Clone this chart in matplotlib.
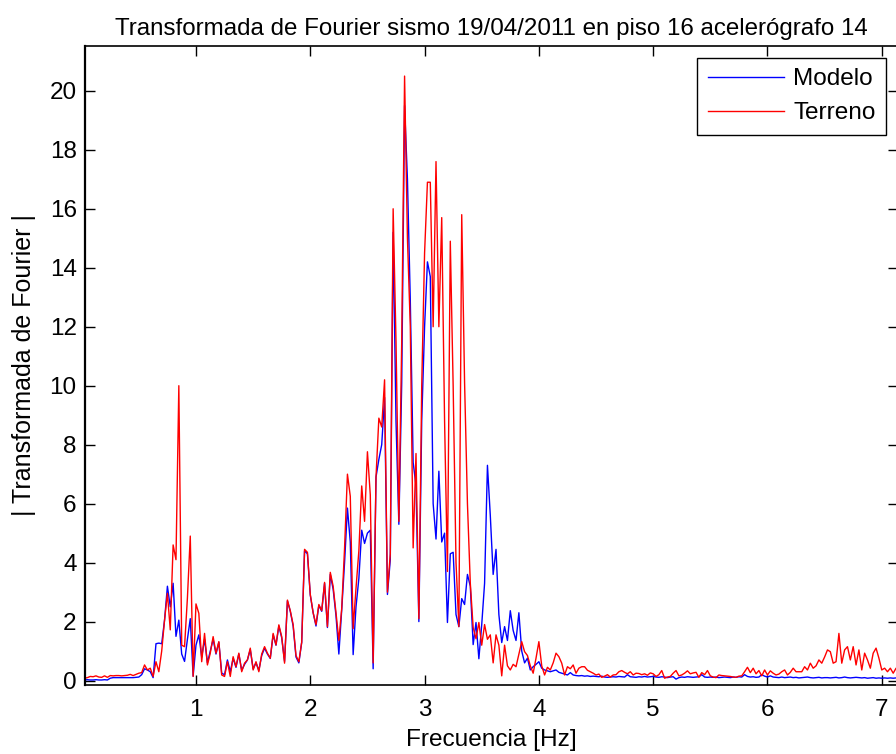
import numpy as np
import matplotlib
matplotlib.use('Agg')
import matplotlib.pyplot as plt

plt.rcParams['font.family'] = 'Liberation Sans'

# frequency bins of the spectrum [Hz]
df = 0.025
freq = np.arange(1, 287) * df

# |FFT| of the building model record (piso 16, acelerografo 14)
modelo = [
    0.02, 0.03, 0.02, 0.02, 0.03, 0.02, 0.02, 0.03, 0.02, 0.08, 0.10, 0.10, 0.10, 0.10, 0.10, 0.10, 0.10, 0.10, 0.11, 0.12,
    0.20, 0.40, 0.36, 0.30, 0.10, 1.25, 1.27, 1.25, 2.05, 3.20, 2.50, 3.30, 1.50, 2.05, 0.90, 0.65, 1.40, 2.10, 0.15, 1.20,
    1.55, 0.80, 1.40, 0.60, 1.00, 1.40, 0.90, 1.30, 0.25, 0.20, 0.70, 0.30, 0.75, 0.45, 0.90, 0.35, 0.55, 0.70, 1.05, 0.40,
    0.60, 0.35, 0.85, 1.10, 0.90, 0.75, 1.55, 1.20, 1.85, 1.45, 0.65, 2.70, 2.35, 1.85, 0.80, 0.60, 1.30, 4.40, 4.30, 2.90,
    2.30, 1.85, 2.55, 2.35, 3.30, 1.80, 3.60, 3.10, 2.20, 0.90, 2.40, 4.00, 5.85, 4.70, 0.88, 2.50, 3.46, 5.10, 4.65, 5.00,
    5.10, 0.40, 6.90, 7.50, 8.00, 9.60, 2.92, 4.10, 15.2, 8.80, 5.30, 10.1, 19.5, 17.0, 12.9, 7.40, 6.60, 2.00, 8.80, 12.0,
    14.2, 13.7, 6.00, 4.80, 7.10, 4.70, 5.00, 1.97, 4.30, 4.35, 2.24, 1.83, 2.78, 2.58, 3.60, 3.20, 1.22, 1.97, 0.74, 1.90,
    3.30, 7.30, 5.60, 3.60, 4.45, 2.24, 1.29, 1.83, 1.36, 2.37, 1.70, 1.36, 2.30, 1.00, 0.60, 0.76, 0.36, 0.47, 0.55, 0.64,
    0.42, 0.36, 0.33, 0.30, 0.33, 0.36, 0.28, 0.25, 0.22, 0.19, 0.27, 0.19, 0.17, 0.16, 0.17, 0.15, 0.16, 0.14, 0.15, 0.14,
    0.13, 0.15, 0.12, 0.11, 0.12, 0.13, 0.12, 0.14, 0.13, 0.12, 0.20, 0.13, 0.12, 0.11, 0.13, 0.12, 0.14, 0.12, 0.13, 0.14,
    0.12, 0.11, 0.13, 0.12, 0.10, 0.12, 0.13, 0.05, 0.10, 0.12, 0.11, 0.13, 0.12, 0.11, 0.12, 0.13, 0.20, 0.12, 0.11, 0.12,
    0.11, 0.12, 0.10, 0.11, 0.12, 0.11, 0.10, 0.12, 0.11, 0.13, 0.12, 0.20, 0.14, 0.12, 0.13, 0.11, 0.12, 0.20, 0.15, 0.12,
    0.16, 0.12, 0.11, 0.10, 0.12, 0.10, 0.11, 0.12, 0.10, 0.11, 0.09, 0.10, 0.11, 0.12, 0.10, 0.09, 0.10, 0.11, 0.09, 0.10,
    0.10, 0.09, 0.10, 0.11, 0.09, 0.10, 0.12, 0.10, 0.09, 0.10, 0.11, 0.10, 0.09, 0.10, 0.08, 0.09, 0.10, 0.08, 0.09, 0.08,
    0.09, 0.08, 0.09, 0.08, 0.09, 0.08,
]

# |FFT| of the ground record
terreno = [
    0.08, 0.10, 0.14, 0.13, 0.16, 0.12, 0.11, 0.16, 0.11, 0.17, 0.16, 0.17, 0.17, 0.16, 0.17, 0.18, 0.21, 0.17, 0.21, 0.25,
    0.27, 0.53, 0.36, 0.42, 0.14, 0.64, 0.30, 1.00, 2.05, 2.96, 1.72, 4.60, 4.10, 10.0, 1.20, 1.15, 2.80, 4.90, 0.14, 2.60,
    2.28, 0.64, 1.60, 0.53, 0.93, 1.49, 0.93, 1.32, 0.19, 0.14, 0.64, 0.14, 0.81, 0.47, 0.93, 0.30, 0.59, 0.70, 1.10, 0.36,
    0.64, 0.30, 0.90, 1.15, 0.93, 0.76, 1.60, 1.21, 1.89, 1.49, 0.59, 2.73, 2.37, 1.90, 0.85, 0.64, 1.30, 4.45, 4.35, 2.92,
    2.30, 1.90, 2.58, 2.37, 3.33, 1.83, 3.67, 3.20, 2.30, 1.36, 2.44, 4.50, 7.00, 6.25, 1.76, 3.13, 4.40, 6.60, 5.40, 7.76,
    6.30, 0.60, 6.90, 8.90, 8.60, 10.2, 3.00, 4.30, 16.0, 11.5, 5.40, 11.5, 20.5, 15.0, 12.0, 4.50, 7.70, 2.10, 10.0, 14.5,
    16.9, 16.9, 12.0, 17.6, 12.0, 15.7, 8.80, 3.70, 14.9, 10.0, 4.00, 1.83, 15.8, 10.1, 6.00, 3.30, 1.80, 1.42, 1.97, 1.20,
    1.90, 1.40, 1.55, 0.60, 1.55, 1.20, 0.16, 1.20, 0.50, 0.36, 0.55, 0.47, 0.90, 1.32, 0.98, 0.85, 0.50, 0.25, 0.76, 1.32,
    0.50, 0.19, 0.45, 0.36, 0.60, 0.93, 0.81, 0.59, 0.19, 0.47, 0.40, 0.53, 0.25, 0.42, 0.47, 0.47, 0.35, 0.30, 0.25, 0.19,
    0.22, 0.11, 0.15, 0.20, 0.12, 0.19, 0.20, 0.30, 0.34, 0.28, 0.23, 0.30, 0.19, 0.25, 0.24, 0.20, 0.23, 0.18, 0.26, 0.23,
    0.14, 0.20, 0.34, 0.08, 0.12, 0.14, 0.25, 0.34, 0.16, 0.19, 0.25, 0.33, 0.23, 0.26, 0.28, 0.11, 0.27, 0.20, 0.34, 0.16,
    0.12, 0.10, 0.19, 0.17, 0.16, 0.15, 0.14, 0.12, 0.11, 0.15, 0.16, 0.30, 0.45, 0.27, 0.42, 0.23, 0.34, 0.16, 0.36, 0.19,
    0.33, 0.25, 0.19, 0.22, 0.30, 0.36, 0.19, 0.28, 0.42, 0.30, 0.30, 0.30, 0.47, 0.36, 0.59, 0.42, 0.50, 0.70, 0.59, 0.80,
    1.04, 0.98, 0.59, 0.64, 1.60, 0.59, 1.04, 1.15, 0.70, 1.15, 0.53, 1.04, 0.36, 0.93, 0.70, 0.42, 0.93, 1.10, 0.76, 0.36,
    0.42, 0.30, 0.42, 0.25, 0.42, 0.30,
]

xticks = [1, 2, 3, 4, 5, 6, 7]
yticks = [0, 2, 4, 6, 8, 10, 12, 14, 16, 18, 20]

fig = plt.figure(figsize=(8.96, 7.54), dpi=100)
ax = fig.add_axes([85/896, 69/754, 813/896, 639/754])

ax.plot(freq, modelo, color='#0000ff', lw=1.0, label='Modelo')
ax.plot(freq, terreno, color='#ff0000', lw=1.0, label='Terreno')

ax.set_xlim(0.029, 7.142)
ax.set_ylim(-0.15, 21.52)
ax.set_xticks(xticks)
ax.set_yticks(yticks)
ax.tick_params(direction='in', top=True, right=True, length=7, width=1,
               labelsize=17.5, pad=10)
ax.tick_params(axis='y', pad=6)
for s in ax.spines.values():
    s.set_linewidth(1.2)
ax.spines['left'].set_linewidth(1.6)

ax.set_title('Transformada de Fourier sismo 19/04/2011 en piso 16 acelerógrafo 14',
             fontsize=17.4, pad=8)
ax.set_xlabel('Frecuencia [Hz]', fontsize=17.6, labelpad=6)
ax.set_ylabel('| Transformada de Fourier |', fontsize=18, labelpad=10)

leg = ax.legend(loc='upper right', fontsize=17.6, fancybox=False, framealpha=1,
                edgecolor='black', handlelength=3.1, handletextpad=0.4,
                labelspacing=0.48, borderpad=0.43, borderaxespad=0.48)
leg.get_frame().set_linewidth(1.0)

fig.savefig('out.png', dpi=100)
